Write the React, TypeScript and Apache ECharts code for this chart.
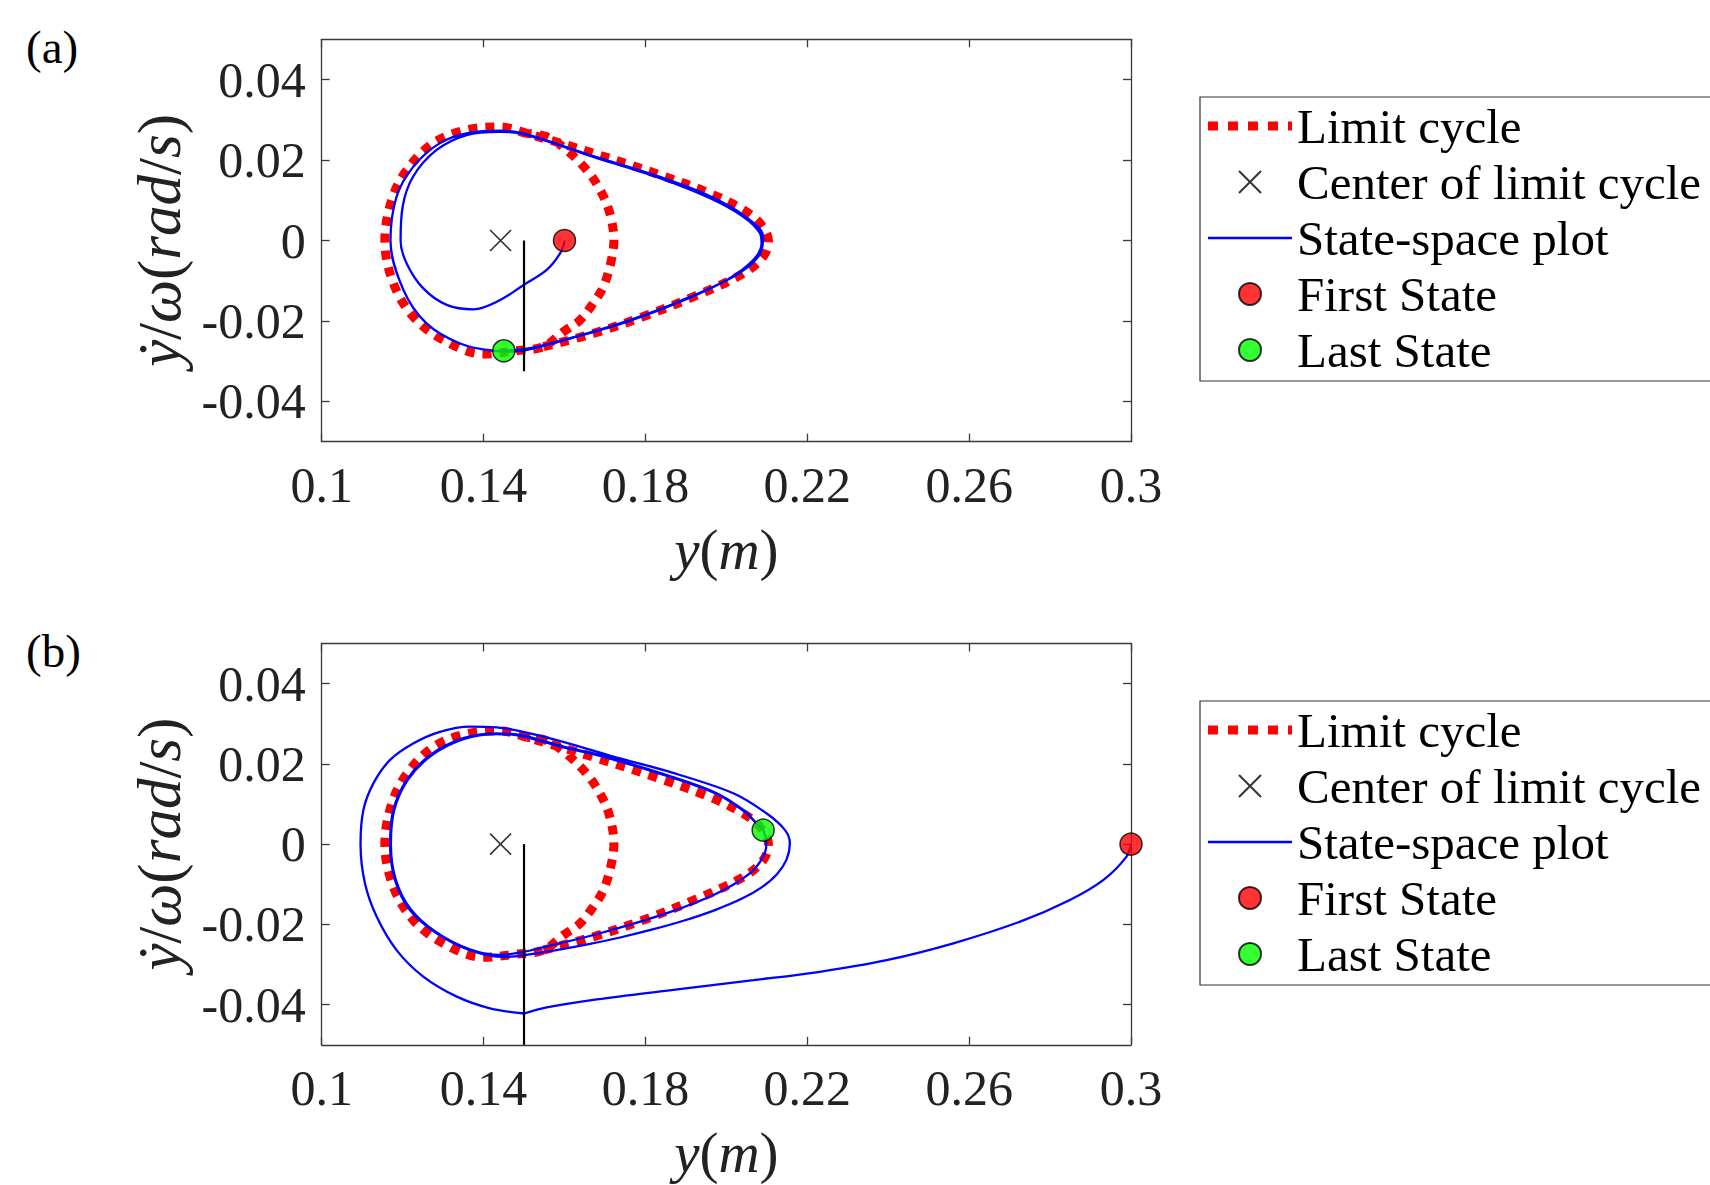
import React, { useEffect, useRef } from "react";
import * as echarts from "echarts";

// ---------- data ----------
const X_TICKS = [0.1, 0.14, 0.18, 0.22, 0.26, 0.3];
const Y_TICKS = [-0.04, -0.02, 0, 0.02, 0.04];
const X_MIN = 0.1;
const X_MAX = 0.3;
const Y_MIN = -0.05;
const Y_MAX = 0.05;

const LEGEND_NAMES = [
  "Limit cycle",
  "Center of limit cycle",
  "State-space plot",
  "First State",
  "Last State",
];

// limit cycle (same in both panels): outer loop + inner arc
const LIMIT_CYCLE: number[][] = [
  [0.1548, -0.0264], [0.1671, -0.0231], [0.1795, -0.0189], [0.1918, -0.014],
  [0.2042, -0.0082], [0.2091, -0.004], [0.2104, 0.0], [0.2083, 0.0043],
  [0.2042, 0.0076], [0.196, 0.0117], [0.1836, 0.0163], [0.1671, 0.0217],
  [0.1507, 0.0266], [0.1441, 0.0282], [0.1358, 0.0275], [0.1276, 0.0242],
  [0.121, 0.0175], [0.1173, 0.0101], [0.1156, 0.0], [0.1177, -0.0106],
  [0.1226, -0.0189], [0.13, -0.0247], [0.1399, -0.0282], [0.148, -0.0274],
  [0.1548, -0.0264], [0.1597, -0.0227], [0.1638, -0.0198], [0.1671, -0.0156],
  [0.1696, -0.0115], [0.1714, -0.0057], [0.1722, 0.0], [0.1712, 0.0068],
  [0.1688, 0.0126], [0.1655, 0.0175], [0.1605, 0.0225], [0.1556, 0.0258],
  [0.1507, 0.0266],
];

const CENTER: number[][] = [[0.1442, 0]];

// panel (a)
const STATE_A: number[][] = [
  [0.1601, 0.0], [0.1589, -0.0032], [0.1556, -0.0073], [0.1498, -0.0111],
  [0.1441, -0.0148], [0.1375, -0.0171], [0.1309, -0.016], [0.1251, -0.0119],
  [0.121, -0.0057], [0.1195, 0.0], [0.12, 0.0084], [0.1226, 0.0159],
  [0.1284, 0.0225], [0.1358, 0.0262], [0.1441, 0.027], [0.149, 0.0266],
  [0.1671, 0.0208], [0.1836, 0.0155], [0.196, 0.0105], [0.2042, 0.0059],
  [0.2083, 0.0018], [0.2087, -0.0007], [0.2067, -0.0048], [0.2001, -0.0098],
  [0.1877, -0.0156], [0.1754, -0.0202], [0.163, -0.0239], [0.1523, -0.0268],
  [0.1474, -0.0276], [0.1424, -0.0274], [0.1342, -0.0256], [0.1259, -0.0206],
  [0.1202, -0.0123], [0.117, 0.0], [0.1185, 0.0109], [0.1226, 0.0183],
  [0.1292, 0.0242], [0.1366, 0.0268], [0.1441, 0.0273], [0.1498, 0.0266],
  [0.1671, 0.021], [0.1836, 0.0158], [0.196, 0.011], [0.2042, 0.0063],
  [0.2091, 0.0009], [0.2079, -0.004], [0.2017, -0.009], [0.1877, -0.0154],
  [0.1754, -0.02], [0.163, -0.0238], [0.1523, -0.0266], [0.145, -0.0274],
];
const FIRST_A: number[][] = [[0.16, 0]];
const LAST_A: number[][] = [[0.145, -0.0274]];
const SWITCH_A: number[][] = [[0.15, 0], [0.15, -0.0325]];

// panel (b)
const STATE_B_APPROACH: number[][] = [
  [0.3, 0.0], [0.2989, -0.0031], [0.2932, -0.0089], [0.2849, -0.0139],
  [0.2726, -0.0193], [0.2561, -0.0247], [0.2396, -0.0289], [0.2231, -0.0318],
  [0.2067, -0.0339], [0.1844, -0.0366], [0.168, -0.0387], [0.1556, -0.0407],
  [0.1501, -0.0422],
];
const STATE_B_CYCLES: number[][] = [
  [0.1501, -0.0422], [0.1416, -0.0409], [0.1334, -0.038], [0.1251, -0.033],
  [0.1185, -0.0264], [0.1136, -0.0181], [0.1107, -0.0098], [0.1096, 0.0],
  [0.1103, 0.0085], [0.1128, 0.0152], [0.1169, 0.021], [0.1226, 0.0251],
  [0.1292, 0.028], [0.1366, 0.0293], [0.1432, 0.0291], [0.1498, 0.028],
  [0.1597, 0.0255], [0.1721, 0.0218], [0.185, 0.0183], [0.2017, 0.0127],
  [0.2099, 0.0077], [0.2145, 0.0035], [0.2157, 0.0002], [0.2149, -0.0038],
  [0.2125, -0.0075], [0.2088, -0.0107], [0.204, -0.0135], [0.1975, -0.0163],
  [0.19, -0.0189], [0.182, -0.0212], [0.174, -0.0232], [0.166, -0.0249],
  [0.158, -0.0264], [0.1498, -0.0277], [0.1449, -0.0281],
  [0.1366, -0.0264], [0.1284, -0.0222], [0.1218, -0.0164], [0.1181, -0.0089],
  [0.1169, 0.0], [0.1177, 0.0085], [0.121, 0.016], [0.1268, 0.0222],
  [0.135, 0.0264], [0.1432, 0.0276], [0.149, 0.0272], [0.1597, 0.0243],
  [0.1688, 0.0222], [0.1853, 0.0172], [0.1976, 0.0127], [0.2042, 0.0085],
  [0.2075, 0.0052], [0.2091, 0.0035], [0.2099, 0.0002], [0.2091, -0.0031],
  [0.2058, -0.0073], [0.1976, -0.0123], [0.1853, -0.0172], [0.1688, -0.0222],
  [0.1556, -0.0255], [0.149, -0.027], [0.144, -0.0276],
  [0.1366, -0.0262], [0.1284, -0.022], [0.122, -0.0162], [0.1183, -0.0088],
  [0.1171, 0.0], [0.1179, 0.0084], [0.1212, 0.0159], [0.127, 0.022],
  [0.1352, 0.0262], [0.1432, 0.0274], [0.149, 0.027], [0.1597, 0.0241],
  [0.1688, 0.022], [0.1853, 0.017], [0.1976, 0.0125], [0.2042, 0.0083],
  [0.2075, 0.0051], [0.2091, 0.0035],
];
const FIRST_B: number[][] = [[0.3, 0]];
const LAST_B: number[][] = [[0.2091, 0.0035]];
const SWITCH_B: number[][] = [[0.15, 0], [0.15, -0.05]];

// ---------- styles ----------
const FONT = "'Liberation Serif', 'DejaVu Serif', serif";
const AXIS_COLOR = "#3a3a3a";
const TEXT_COLOR = "#222222";
const CROSS_PATH = "path://M0,0L10,10M10,0L0,10";
const DOTTED_ICON =
  "path://M0,0h10v9h-10zM20,0h10v9h-10zM40,0h10v9h-10zM60,0h10v9h-10zM80,0h4v9h-4z";
const SOLID_ICON = "path://M0,0h84v2.4h-84z";

function buildAxes(gridIndex: number) {
  const lineStyle = { color: AXIS_COLOR, width: 1.3 };
  const xBottom = {
    gridIndex,
    type: "value",
    min: X_MIN,
    max: X_MAX,
    position: "bottom",
    axisLine: { show: true, onZero: false, lineStyle },
    axisTick: { show: true, inside: true, length: 8, customValues: X_TICKS, lineStyle },
    axisLabel: {
      show: true,
      customValues: X_TICKS,
      margin: 18,
      fontSize: 50,
      fontFamily: FONT,
      color: TEXT_COLOR,
    },
    splitLine: { show: false },
    name: "{i|y}({i|m})",
    nameLocation: "middle",
    nameGap: 80,
    nameTextStyle: {
      fontSize: 57,
      lineHeight: 56,
      fontFamily: FONT,
      color: TEXT_COLOR,
      rich: { i: { fontSize: 57, lineHeight: 56, fontFamily: FONT, fontStyle: "italic", color: TEXT_COLOR } },
    },
  };
  const xTop = {
    gridIndex,
    type: "value",
    min: X_MIN,
    max: X_MAX,
    position: "top",
    axisLine: { show: true, onZero: false, lineStyle },
    axisTick: { show: true, inside: true, length: 8, customValues: X_TICKS, lineStyle },
    axisLabel: { show: false },
    splitLine: { show: false },
  };
  const yLeft = {
    gridIndex,
    type: "value",
    min: Y_MIN,
    max: Y_MAX,
    position: "left",
    axisLine: { show: true, onZero: false, lineStyle },
    axisTick: { show: true, inside: true, length: 8, customValues: Y_TICKS, lineStyle },
    axisLabel: {
      show: true,
      customValues: Y_TICKS,
      margin: 16,
      fontSize: 50,
      fontFamily: FONT,
      color: TEXT_COLOR,
    },
    splitLine: { show: false },
    name: "{i|\u1E8F}/{i|\u03C9}({i|rad}/{i|s})",
    nameLocation: "middle",
    nameGap: 132,
    nameTextStyle: {
      fontSize: 61,
      fontFamily: FONT,
      color: TEXT_COLOR,
      rich: { i: { fontSize: 61, fontFamily: FONT, fontStyle: "italic", color: TEXT_COLOR } },
    },
  };
  const yRight = {
    gridIndex,
    type: "value",
    min: Y_MIN,
    max: Y_MAX,
    position: "right",
    axisLine: { show: true, onZero: false, lineStyle },
    axisTick: { show: true, inside: true, length: 8, customValues: Y_TICKS, lineStyle },
    axisLabel: { show: false },
    splitLine: { show: false },
  };
  return { x: [xBottom, xTop], y: [yLeft, yRight] };
}

function buildSeries(
  axisIndex: number,
  stateParts: number[][][],
  first: number[][],
  last: number[][],
  switchLine: number[][]
) {
  const common = { xAxisIndex: axisIndex, yAxisIndex: axisIndex };
  const series: any[] = [
    {
      ...common,
      type: "line",
      name: "Limit cycle",
      data: LIMIT_CYCLE,
      smooth: 0.35,
      showSymbol: false,
      symbol: "none",
      lineStyle: { color: "#ff0000", width: 9, type: [9, 8], cap: "butt" },
      itemStyle: { color: "#ff0000" },
      z: 1,
    },
    {
      ...common,
      type: "scatter",
      name: "Center of limit cycle",
      data: CENTER,
      symbol: CROSS_PATH,
      symbolSize: 21,
      itemStyle: { color: "rgba(0,0,0,0)", borderColor: "#000000", borderWidth: 1.6 },
      clip: false,
      z: 3,
    },
  ];
  stateParts.forEach((part) => {
    series.push({
      ...common,
      type: "line",
      name: "State-space plot",
      data: part,
      smooth: 0.35,
      showSymbol: false,
      symbol: "none",
      lineStyle: { color: "#0000ff", width: 2.3 },
      itemStyle: { color: "#0000ff" },
      z: 2,
    });
  });
  series.push(
    {
      ...common,
      type: "line",
      name: "switch",
      data: switchLine,
      showSymbol: false,
      symbol: "none",
      lineStyle: { color: "#000000", width: 2.2 },
      z: 3,
    },
    {
      ...common,
      type: "scatter",
      name: "First State",
      data: first,
      symbol: "circle",
      symbolSize: 22,
      itemStyle: { color: "#ff0000", borderColor: "#000000", borderWidth: 1.5 },
      clip: false,
      z: 4,
    },
    {
      ...common,
      type: "scatter",
      name: "Last State",
      data: last,
      symbol: "circle",
      symbolSize: 22,
      itemStyle: { color: "#00ff00", borderColor: "#000000", borderWidth: 1.5 },
      clip: false,
      z: 4,
    }
  );
  return series;
}

function buildLegend(top: number) {
  return {
    data: [
      { name: LEGEND_NAMES[0], icon: DOTTED_ICON, itemStyle: { color: "#ff0000", borderWidth: 0 } },
      { name: LEGEND_NAMES[1] },
      { name: LEGEND_NAMES[2], icon: SOLID_ICON, itemStyle: { color: "#0000ff", borderWidth: 0 } },
      { name: LEGEND_NAMES[3] },
      { name: LEGEND_NAMES[4] },
    ],
    orient: "vertical",
    left: 1200,
    top,
    padding: [3, 40, 5, 8],
    itemGap: 4,
    itemWidth: 84,
    itemHeight: 22,
    selectedMode: false,
    borderColor: "#333333",
    borderWidth: 1.2,
    backgroundColor: "#ffffff",
    textStyle: { fontSize: 49, fontFamily: FONT, color: "#000000", lineHeight: 52 },
  };
}

export default function App() {
  const ref = useRef<HTMLDivElement>(null);

  useEffect(() => {
    if (!ref.current) return;
    const chart = echarts.init(ref.current, undefined, { renderer: "svg" });
    const a = buildAxes(0);
    const b = buildAxes(1);
    const option: any = {
      animation: false,
      backgroundColor: "#ffffff",
      grid: [
        { left: 321.7, top: 39.3, width: 809.3, height: 402.4, containLabel: false, outerBoundsMode: "none" },
        { left: 321.7, top: 643.5, width: 809.3, height: 401.3, containLabel: false, outerBoundsMode: "none" },
      ],
      xAxis: [...a.x, ...b.x],
      yAxis: [...a.y, ...b.y],
      legend: [buildLegend(97), buildLegend(701)],
      series: [
        ...buildSeries(0, [STATE_A], FIRST_A, LAST_A, SWITCH_A),
        ...buildSeries(2, [STATE_B_APPROACH, STATE_B_CYCLES], FIRST_B, LAST_B, SWITCH_B),
      ],
      graphic: [
        { type: "text", left: 26, top: 23, style: { text: "(a)", fontSize: 47, fontFamily: FONT, fill: "#000000" } },
        { type: "text", left: 26, top: 627, style: { text: "(b)", fontSize: 47, fontFamily: FONT, fill: "#000000" } },
      ],
    };
    chart.setOption(option);
    return () => chart.dispose();
  }, []);

  return (
    <div
      ref={ref}
      style={{ position: "absolute", left: 0, top: 0, width: 1710, height: 1185, overflow: "hidden", background: "#fff" }}
    />
  );
}
